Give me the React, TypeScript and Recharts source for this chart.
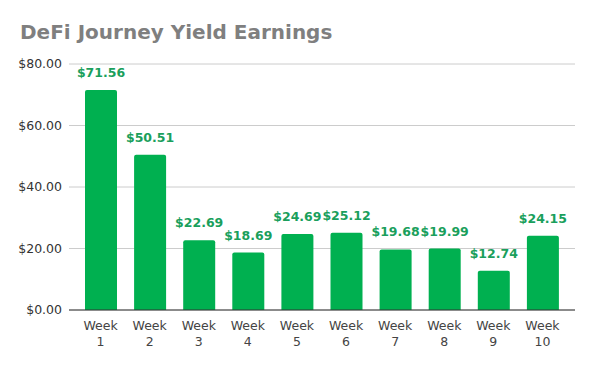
import { BarChart, Bar, XAxis, YAxis, CartesianGrid, LabelList } from "recharts";

const weeks = ["Week 1", "Week 2", "Week 3", "Week 4", "Week 5", "Week 6", "Week 7", "Week 8", "Week 9", "Week 10"];
const earnings = [71.56, 50.51, 22.69, 18.69, 24.69, 25.12, 19.68, 19.99, 12.74, 24.15];
const yTicks = [0, 20, 40, 60, 80];

const data = weeks.map((week, i) => ({ week, value: earnings[i] }));

const font = "'DejaVu Sans', Verdana, sans-serif";
const barColor = "#00b050";
const labelColor = "#1a9f5c";

function WeekTick({ x, y, payload }: any) {
  const [word, num] = String(payload.value).split(" ");
  return (
    <text x={x} y={y} textAnchor="middle" fontFamily={font} fontSize={12.5} fill="#444">
      <tspan x={x} dy={12}>{word}</tspan>
      <tspan x={x} dy={16}>{num}</tspan>
    </text>
  );
}

export default function App() {
  return (
    <div style={{ position: "fixed", left: 0, top: 0, width: 593, height: 367, background: "#fff" }}>
      <div
        style={{
          position: "absolute",
          left: 20,
          top: 20,
          fontFamily: font,
          fontWeight: "bold",
          fontSize: 20,
          color: "#7f7f7f",
          lineHeight: "24px",
        }}
      >
        DeFi Journey Yield Earnings
      </div>
      <BarChart width={593} height={367} data={data} margin={{ top: 64, right: 18, bottom: 0, left: 0 }} barSize={32}>
        <CartesianGrid vertical={false} stroke="#cccccc" />
        <XAxis
          dataKey="week"
          tick={<WeekTick />}
          tickLine={false}
          axisLine={{ stroke: "#333", strokeWidth: 1 }}
          interval={0}
          height={57}
          padding={{ left: 7, right: 8 }}
        />
        <YAxis
          domain={[0, 80]}
          ticks={yTicks}
          width={69}
          tickLine={false}
          axisLine={false}
          tickMargin={1}
          tickFormatter={(v: number) => `$${v.toFixed(2)}`}
          tick={{ fontFamily: font, fontSize: 12.5, fill: "#333" }}
        />
        <Bar dataKey="value" fill={barColor} radius={[2, 2, 0, 0]} isAnimationActive={false}>
          <LabelList
            dataKey="value"
            position="top"
            offset={13}
            formatter={(v: any) => `$${Number(v).toFixed(2)}`}
            style={{ fontFamily: font, fontSize: 12.5, fontWeight: "bold", fill: labelColor }}
          />
        </Bar>
      </BarChart>
    </div>
  );
}
